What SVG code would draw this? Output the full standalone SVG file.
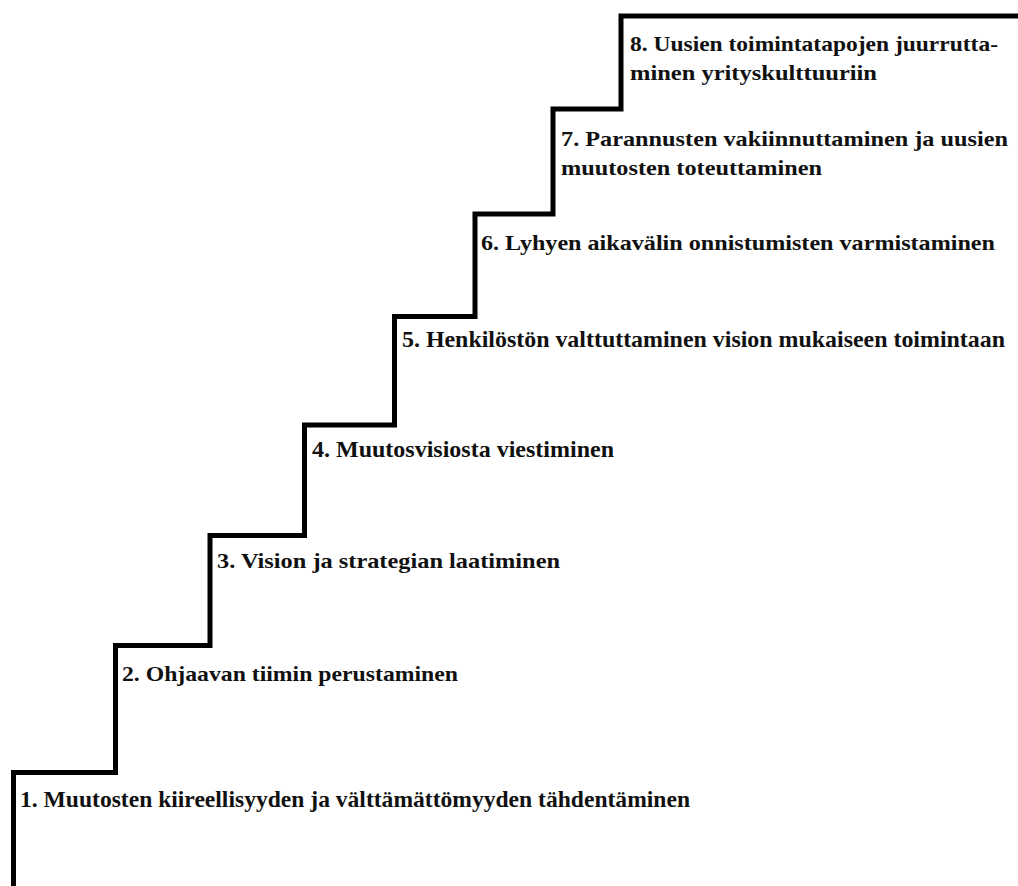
<svg xmlns="http://www.w3.org/2000/svg" width="1018" height="886" viewBox="0 0 1018 886">
<style>
.step{font-family:"Liberation Serif","Times New Roman",serif;font-weight:bold;font-size:22px;fill:#111}
.tall{font-size:24px}
.stair{fill:none;stroke:#000;stroke-width:5;stroke-linejoin:miter}
</style>
<rect width="1018" height="886" fill="#fff"/>
<g id="connectors">
<path class="stair" d="M13.5,886 V772.5 H115.5 V645.5 H210 V535.5 H304.5 V425 H394.5 V316.5 H475 V214 H553 V109 H621 V16 H1020"/>
</g>
<g id="step1"><text class="step tall" x="20" y="807" textLength="670" lengthAdjust="spacingAndGlyphs">1. Muutosten kiireellisyyden ja välttämättömyyden tähdentäminen</text></g>
<g id="step2"><text class="step" x="122" y="681" textLength="336" lengthAdjust="spacingAndGlyphs">2. Ohjaavan tiimin perustaminen</text></g>
<g id="step3"><text class="step" x="217" y="568" textLength="343" lengthAdjust="spacingAndGlyphs">3. Vision ja strategian laatiminen</text></g>
<g id="step4"><text class="step tall" x="312" y="457" textLength="302" lengthAdjust="spacingAndGlyphs">4. Muutosvisiosta viestiminen</text></g>
<g id="step5"><text class="step tall" x="402" y="347" textLength="603" lengthAdjust="spacingAndGlyphs">5. Henkilöstön valttuttaminen vision mukaiseen toimintaan</text></g>
<g id="step6"><text class="step" x="481" y="250" textLength="514" lengthAdjust="spacingAndGlyphs">6. Lyhyen aikavälin onnistumisten varmistaminen</text></g>
<g id="step7"><text class="step" x="561" y="146" textLength="447" lengthAdjust="spacingAndGlyphs">7. Parannusten vakiinnuttaminen ja uusien</text><text class="step" x="561" y="175" textLength="261" lengthAdjust="spacingAndGlyphs">muutosten toteuttaminen</text></g>
<g id="step8"><text class="step" x="630" y="51" textLength="368" lengthAdjust="spacingAndGlyphs">8. Uusien toimintatapojen juurrutta-</text><text class="step" x="630" y="80" textLength="247" lengthAdjust="spacingAndGlyphs">minen yrityskulttuuriin</text></g>
</svg>
